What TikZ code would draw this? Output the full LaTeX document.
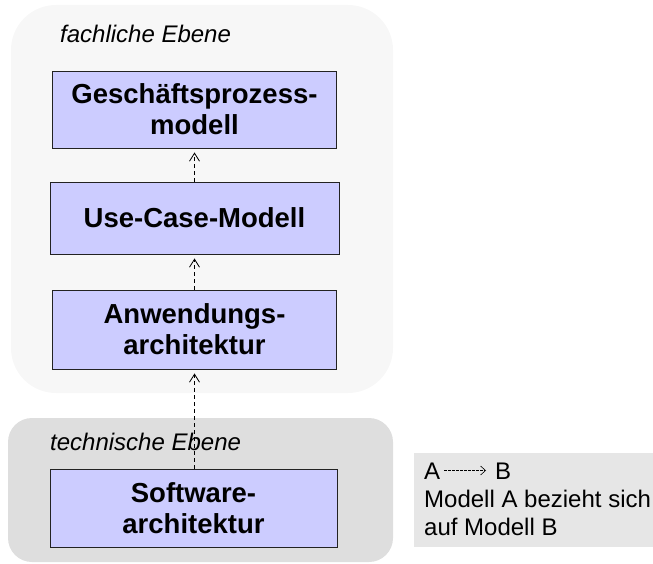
\documentclass[tikz,border=0pt]{standalone}
\usepackage{fontspec}
\setmainfont{Liberation Sans}
\usetikzlibrary{arrows.meta}

\definecolor{layerbg}{HTML}{F7F7F7}
\definecolor{techbg}{HTML}{DEDEDE}
\definecolor{notebg}{HTML}{E6E6E6}
\definecolor{modelfill}{HTML}{CCCCFF}
\definecolor{modelline}{HTML}{222222}

\tikzset{
  model/.style={draw=modelline, line width=0.9pt, fill=modelfill, inner sep=0pt,
    align=center, font=\bfseries\fontsize{27.5}{31}\selectfont},
  layerlabel/.style={anchor=base west, inner sep=0pt, font=\itshape\fontsize{24}{28}\selectfont},
  legtext/.style={anchor=base west, inner sep=0pt, font=\fontsize{24}{28}\selectfont},
  dep/.style={dash pattern=on 4pt off 3pt, line width=0.8pt, shorten >=4pt,
    -{Straight Barb[length=8pt,width=10pt,line width=0.8pt]}},
  legarrow/.style={dash pattern=on 2.5pt off 1.5pt, line width=0.6pt,
    -{Straight Barb[length=5pt,width=9pt,line width=0.6pt]}},
}

\begin{document}
\begin{tikzpicture}[x=1pt,y=1pt]
\useasboundingbox (0,0) rectangle (653,563);

% layer backgrounds
\fill[layerbg, rounded corners=45pt] (11,170) rectangle (393,558);
\fill[techbg, rounded corners=24pt] (8,1) rectangle (393,145);
\fill[notebg] (414,16) rectangle (653,110);

\node[layerlabel] (fach) at (60,520) {fachliche Ebene};
\node[layerlabel] (tech) at (50,113) {technische Ebene};

% models
\node[model, minimum width=284pt, minimum height=77pt] (gp) at (194.5,453.5) {Geschäftsprozess-\\modell};
\node[model, minimum width=289pt, minimum height=72pt] (uc) at (194.5,345) {Use-Case-Modell};
\node[model, minimum width=284pt, minimum height=79pt] (aw) at (194.5,233.5) {Anwendungs-\\architektur};
\node[model, minimum width=287pt, minimum height=78pt] (sw) at (193.5,55) {Software-\\architektur};

% dependencies
\draw[dep] (uc.north) -- (gp.south);
\draw[dep] (aw.north) -- (uc.south);
\draw[dep] (sw.north -| aw.south) -- (aw.south);

% legend
\node[legtext] (la) at (424,84) {A};
\node[legtext] (lb) at (495,84) {B};
\coordinate (lafrom) at ([xshift=4pt,yshift=8.5pt]la.base east);
\coordinate (lato) at ([xshift=-9pt,yshift=8.5pt]lb.base west);
\draw[legarrow] (lafrom) -- (lato);
\node[legtext] (l2) at (424,56) {Modell A bezieht sich};
\node[legtext] (l3) at (424,28) {auf Modell B};
\end{tikzpicture}
\end{document}
